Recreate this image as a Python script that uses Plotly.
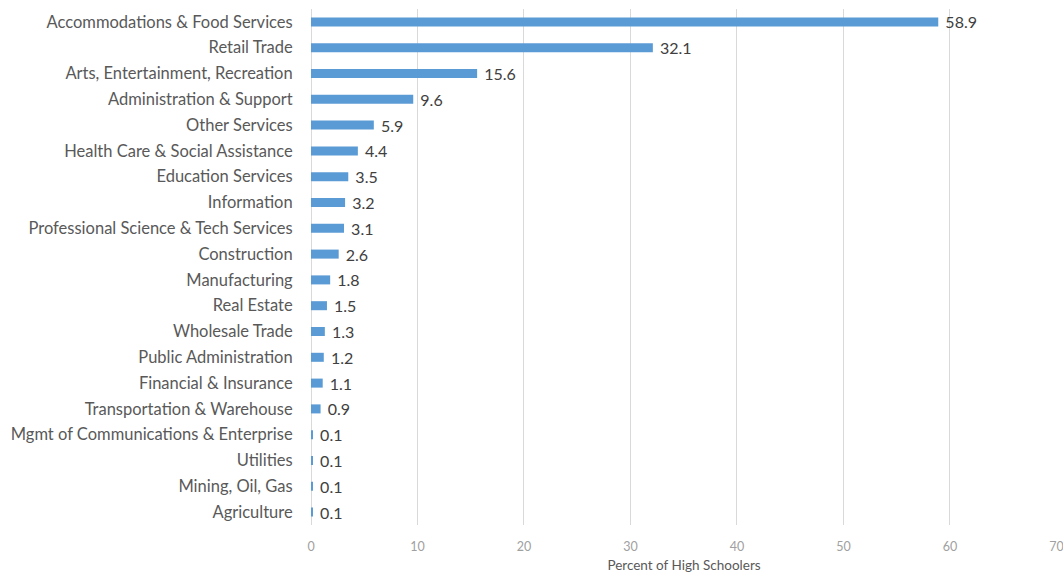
import plotly.graph_objects as go

categories = [
    "Accommodations & Food Services", "Retail Trade", "Arts, Entertainment, Recreation",
    "Administration & Support", "Other Services", "Health Care & Social Assistance",
    "Education Services", "Information", "Professional Science & Tech Services",
    "Construction", "Manufacturing", "Real Estate", "Wholesale Trade",
    "Public Administration", "Financial & Insurance", "Transportation & Warehouse",
    "Mgmt of Communications & Enterprise", "Utilities", "Mining, Oil, Gas", "Agriculture",
]
values = [58.9, 32.1, 15.6, 9.6, 5.9, 4.4, 3.5, 3.2, 3.1, 2.6, 1.8, 1.5, 1.3, 1.2, 1.1, 0.9, 0.1, 0.1, 0.1, 0.1]
x_ticks = [0, 10, 20, 30, 40, 50, 60, 70]
x_title = "Percent of High Schoolers"

fig = go.Figure(go.Bar(
    y=categories, x=values, orientation="h",
    marker=dict(color="#5B9BD5", line=dict(width=0)),
    text=[f"{v:.1f}" for v in values],
    texttemplate=" %{text}",
    textposition="outside",
    constraintext="none",
    textfont=dict(family="Lato, sans-serif", size=16, color="#404040"),
    cliponaxis=False,
))

fig.update_layout(
    width=1063, height=573,
    margin=dict(l=311, r=6, t=9, b=48),
    plot_bgcolor="white", paper_bgcolor="white",
    bargap=0.65,
    showlegend=False,
    xaxis=dict(
        range=[0, 70.05], tickvals=x_ticks, showgrid=True, gridcolor="#D9D9D9", gridwidth=1,
        zeroline=True, zerolinecolor="#D9D9D9", zerolinewidth=1,
        ticks="outside", ticklen=10, tickcolor="rgba(0,0,0,0)",
        ticklabeloverflow="allow",
        automargin=False,
        tickfont=dict(family="Lato, sans-serif", size=12.5, color="#A0A0A0"),
        title=dict(text=x_title, font=dict(family="Lato, sans-serif", size=13.5, color="#595959"), standoff=7),
        showline=False,
    ),
    yaxis=dict(
        autorange="reversed", showgrid=False, zeroline=False, showline=False,
        automargin=False,
        ticks="outside", ticklen=14, tickcolor="rgba(0,0,0,0)",
        tickfont=dict(family="Lato, sans-serif", size=16.5, color="#595959"),
    ),
)

fig.write_html("out.html")
